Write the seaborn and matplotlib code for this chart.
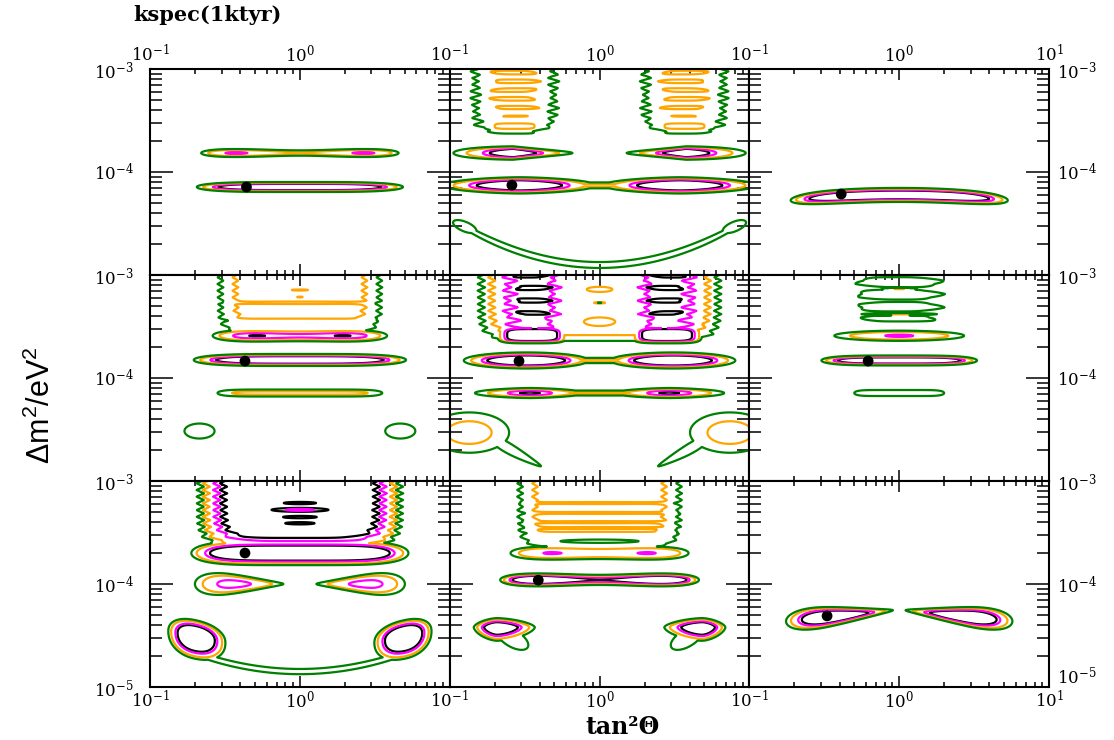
import numpy as np
import matplotlib
matplotlib.use("Agg")
import matplotlib.pyplot as plt
from matplotlib.ticker import LogLocator, NullFormatter
import seaborn as sns

# ---------------------------------------------------------------------------
# Confidence-level contours of the chi^2 surface
# ---------------------------------------------------------------------------
CHI2_LEVELS = [4.61, 5.99, 9.21, 11.83]
LEVEL_COLORS = ["black", "magenta", "orange", "green"]

X_TICKS = [0.1, 1.0, 10.0]
X_TICK_LABELS = [r"$\mathregular{10^{-1}}$", r"$\mathregular{10^{0}}$", r"$\mathregular{10^{1}}$"]
Y_TICKS = [1e-5, 1e-4, 1e-3]
Y_TICK_LABELS = [r"$\mathregular{10^{-5}}$", r"$\mathregular{10^{-4}}$", r"$\mathregular{10^{-3}}$"]

TITLE = "kspec(1ktyr)"
X_LABEL = "tan²Θ"
Y_LABEL = r"$\mathregular{\Delta m^{2}/eV^{2}}$"

# best-fit points, panels in reading order
BEST_TAN2 = [0.44, 0.26, 0.41, 0.43, 0.29, 0.62, 0.43, 0.39, 0.33]
BEST_DM2 = [7.15e-5, 7.45e-5, 6.1e-5, 1.46e-4, 1.46e-4, 1.46e-4, 2.0e-4, 1.09e-4, 4.9e-5]


def isl(cx, cy, d, sx=None, sy=None, sxn=None, sxp=None, syn=None, syp=None,
        px=2, py=2, a=0.0, k=0.0, slope=0.0, taper=0.0, wig=0.0, wigp=0.065,
        osc=0.0, oscp=0.1, ph=0.0, mirror=False):
    """One allowed region of the chi^2 surface in (log tan^2, log dm^2)."""
    return dict(cx=cx, cy=cy, d=d,
                sxn=sxn if sxn is not None else sx, sxp=sxp if sxp is not None else sx,
                syn=syn if syn is not None else sy, syp=syp if syp is not None else sy,
                px=px, py=py, a=a, k=k, slope=slope, taper=taper, wig=wig, wigp=wigp,
                osc=osc, oscp=oscp, ph=ph, mirror=mirror)


def bump(cx, cy, sx, sy, h, mirror=False):
    """Local rise of chi^2."""
    return dict(cx=cx, cy=cy, sx=sx, sy=sy, h=h, mirror=mirror)


# ---- row 1 ----------------------------------------------------------------
REGIONS_11 = [
    isl(0.0, -3.816, 5.6, sx=0.316, sy=0.0156, px=4, a=0.43),
    isl(0.0, -4.146, 0.0, sx=0.371, sy=0.0141, px=4),
]
RISES_11 = []

REGIONS_12 = [
    isl(-0.567, -3.0, 9.3, sx=0.206, sy=0.55, px=4, py=8, wig=0.03,
        osc=0.35, oscp=0.085, ph=-3.12, mirror=True),
    isl(-0.567, -3.555, 8.6, sx=0.15, sy=0.03, px=4, py=4, mirror=True),
    isl(-0.578, -3.816, 0.0, sx=0.0336, sy=0.019, px=1, taper=-1.0, mirror=True),
    isl(-0.535, -4.13, 0.0, sx=0.1096, sy=0.023, px=1.6, mirror=True),
    isl(0.0, -4.13, 8.6, sx=0.3, sy=0.016, px=4),
    isl(0.0, -4.903, 10.5, sx=0.936, sy=0.025, px=8, k=0.455),
    isl(-0.9, -4.53, 10.6, sx=0.07, sy=0.045, slope=-0.5, mirror=True),
]
RISES_12 = []

REGIONS_13 = [
    isl(0.0, -4.223, 0.0, sx=0.442, sy=0.0198, px=5, k=-0.1),
]
RISES_13 = []

# ---- row 2 ----------------------------------------------------------------
REGIONS_21 = [
    isl(0.0, -3.0, 8.6, sx=0.458, sy=0.483, px=8, py=8, wig=0.02),
    isl(0.0, -3.59, 4.5, sx=0.3066, sy=0.021, px=4, a=0.29),
    isl(0.0, -3.825, 0.0, sx=0.382, sy=0.017, px=4),
    isl(0.0, -4.146, 8.5, sx=0.473, sy=0.0186, px=8),
    isl(-0.67, -4.515, 10.5, sx=0.087, sy=0.063, mirror=True),
]
RISES_21 = [
    bump(0.0, -3.27, 0.6, 0.012, 1.6),
    bump(0.0, -3.44, 0.6, 0.012, 1.6),
    bump(0.0, -3.146, 0.07, 0.006, 1.2),
    bump(0.0, -3.214, 0.03, 0.005, 1.0),
]

REGIONS_22 = [
    isl(0.0, -3.0, 6.8, sx=0.645, sy=0.523, px=8, py=8, wig=0.025),
    isl(-0.455, -3.0, 4.9, sx=0.148, sy=0.5, px=4, py=8, wig=0.035,
        osc=0.6, oscp=0.122, ph=-3.126, mirror=True),
    isl(-0.45, -3.583, 2.0, sx=0.131, sy=0.0456, px=4, py=4, mirror=True),
    isl(-0.49, -3.83, 0.0, sx=0.121, sy=0.0227, mirror=True),
    isl(0.0, -3.83, 8.5, sx=0.35, sy=0.014, px=4),
    isl(-0.465, -4.146, 4.0, sx=0.093, sy=0.0175, px=1.5, mirror=True),
    isl(0.0, -4.146, 8.8, sx=0.3, sy=0.014, px=4),
    isl(-0.87, -4.53, 8.0, sx=0.136, sy=0.1, mirror=True),
    isl(-0.56, -4.72, 10.8, sx=0.167, sy=0.05, slope=-0.8, taper=-3.0, mirror=True),
]
RISES_22 = [
    bump(0.0, -3.14, 0.12, 0.035, 4.0),
    bump(0.0, -3.45, 0.13, 0.05, 4.0),
    bump(0.0, -3.27, 0.04, 0.006, 6.0),
]

REGIONS_23 = [
    isl(0.0, -3.0, 11.0, sx=0.24, sy=0.437, px=4, py=8, wig=0.03,
        osc=1.0, oscp=0.12, ph=-3.07),
    isl(0.0, -3.136, 9.0, sx=0.07, sy=0.006),
    isl(0.0, -3.38, 9.0, sx=0.15, sy=0.006),
    isl(0.0, -3.59, 5.7, sx=0.175, sy=0.02),
    isl(0.0, -3.83, 0.0, sx=0.28, sy=0.0141, px=4),
    isl(0.0, -4.146, 11.0, sx=0.307, sy=0.032, px=8),
]
RISES_23 = []

# ---- row 3 ----------------------------------------------------------------
REGIONS_31 = [
    isl(0.0, -3.0, 2.0, sx=0.421, sy=0.49, px=5, py=8, wig=0.025),
    isl(0.0, -3.70, 0.0, sx=0.442, sy=0.034, px=5),
    isl(-0.46, -4.0, 5.0, sxn=0.092, sxp=0.134, sy=0.037, taper=-2.0, mirror=True),
    isl(-0.7, -4.51, 0.0, sxn=0.058, sxp=0.066, syn=0.07, syp=0.052,
        px=2.2, py=2.2, slope=-0.3, mirror=True),
    isl(0.0, -4.85, 10.5, sx=0.82, sy=0.022, px=8, k=0.37),
]
RISES_31 = [
    bump(0.0, -3.214, 0.2, 0.02, 3.5),
    bump(0.0, -3.28, 0.25, 0.025, 4.6),
    bump(0.0, -3.35, 0.2, 0.02, 3.5),
    bump(0.0, -3.41, 0.18, 0.02, 3.2),
]

REGIONS_32 = [
    isl(0.0, -3.0, 8.6, sx=0.458, sy=0.553, px=8, py=8, wig=0.02),
    isl(0.0, -3.70, 5.85, sx=0.32, sy=0.026, px=4, a=0.32),
    isl(0.0, -3.96, 0.0, sx=0.281, sy=0.0183, px=4, a=0.41),
    isl(-0.685, -4.42, 0.0, sxn=0.033, sxp=0.054, syn=0.028, syp=0.019,
        px=1.6, py=1.6, mirror=True),
    isl(-0.58, -4.53, 9.6, sx=0.07, sy=0.06, slope=-0.6, mirror=True),
]
RISES_32 = [
    bump(0.0, -3.214, 0.6, 0.01, 1.5),
    bump(0.0, -3.31, 0.6, 0.01, 1.5),
    bump(0.0, -3.40, 0.6, 0.01, 1.5),
    bump(0.0, -3.456, 0.6, 0.008, 1.3),
    bump(0.0, -3.505, 0.6, 0.008, 1.3),
    bump(0.0, -3.583, 0.25, 0.015, 5.0),
]

REGIONS_33 = [
    isl(-0.475, -4.32, 0.0, sxn=0.0815, sxp=0.126, sy=0.028, slope=0.15,
        taper=-1.6, mirror=True),
]
RISES_33 = []

PANEL_REGIONS = [REGIONS_11, REGIONS_12, REGIONS_13,
                 REGIONS_21, REGIONS_22, REGIONS_23,
                 REGIONS_31, REGIONS_32, REGIONS_33]
PANEL_RISES = [RISES_11, RISES_12, RISES_13,
               RISES_21, RISES_22, RISES_23,
               RISES_31, RISES_32, RISES_33]


def zig(t):
    return 2.0 * np.abs(2.0 * (t - np.floor(t + 0.5))) - 1.0


def region_chi2(lx, ly, p):
    def one(x):
        u = x - p["cx"]
        if p["wig"]:
            u = u + p["wig"] * zig(ly / p["wigp"])
        sx = np.where(u < 0, p["sxn"], p["sxp"])
        v = ly - p["cy"] - p["k"] * u ** 2 - p["slope"] * u
        sy = np.where(v < 0, p["syn"], p["syp"]) * np.clip(1 + p["taper"] * u, 0.15, None)
        if p["a"]:
            tx = (np.abs(u ** 2 - p["a"] ** 2) / sx ** 2) ** (p["px"] / 2.0)
        else:
            tx = np.abs(u / sx) ** p["px"]
        ty = np.abs(v / sy) ** p["py"]
        dd = p["d"]
        if p["osc"]:
            dd = dd - p["osc"] * np.cos(2 * np.pi * (ly - p["ph"]) / p["oscp"])
        return dd + tx + ty

    c = one(lx)
    if p["mirror"]:
        c = np.minimum(c, one(-lx))
    return c


def rise(lx, ly, b):
    g = b["h"] * np.exp(-((lx - b["cx"]) / b["sx"]) ** 2 - ((ly - b["cy"]) / b["sy"]) ** 2)
    if b["mirror"]:
        g = g + b["h"] * np.exp(-((-lx - b["cx"]) / b["sx"]) ** 2 - ((ly - b["cy"]) / b["sy"]) ** 2)
    return g


def chi2_surface(lx, ly, regions, rises):
    chi = np.full(lx.shape, 1e3)
    for p in regions:
        chi = np.minimum(chi, region_chi2(lx, ly, p))
    for b in rises:
        chi = chi + rise(lx, ly, b)
    return chi


# ---------------------------------------------------------------------------
sns.set_theme(style="ticks")
plt.rcParams["font.family"] = ["DejaVu Serif"]
plt.rcParams["mathtext.fontset"] = "custom"
plt.rcParams["mathtext.rm"] = "DejaVu Serif"
plt.rcParams["mathtext.bf"] = "DejaVu Serif:bold"
plt.rcParams["axes.linewidth"] = 1.5
for key in ("text.color", "axes.labelcolor", "xtick.color", "ytick.color", "axes.edgecolor"):
    plt.rcParams[key] = "black"

fig = plt.figure(figsize=(11.14, 7.4), dpi=100)
gs = fig.add_gridspec(3, 3, left=0.1347, right=0.9417, bottom=0.0716, top=0.9068,
                      wspace=0, hspace=0)

lx_grid = np.linspace(-1.0, 1.0, 701)
ly_grid = np.linspace(-5.0, -3.0, 501)
LX, LY = np.meshgrid(lx_grid, ly_grid)
X, Y = 10.0 ** LX, 10.0 ** LY

for i in range(9):
    r, c = divmod(i, 3)
    ax = fig.add_subplot(gs[r, c])
    ax.set_xscale("log")
    ax.set_yscale("log")
    ax.set_facecolor("white")

    chi = chi2_surface(LX, LY, PANEL_REGIONS[i], PANEL_RISES[i])
    ax.contour(X, Y, chi, levels=CHI2_LEVELS, colors=LEVEL_COLORS, linewidths=1.6)
    sns.scatterplot(x=[BEST_TAN2[i]], y=[BEST_DM2[i]], ax=ax, color="black",
                    s=60, edgecolor="none", legend=False, zorder=5)

    ax.set_xlim(0.1, 10)
    ax.set_ylim(1e-5, 1e-3)
    ax.set_xlabel("")
    ax.set_ylabel("")

    # neighbouring panels share their edge labels: only the last one keeps the far end
    xt = X_TICKS if c == 2 else X_TICKS[:2]
    xl = X_TICK_LABELS if c == 2 else X_TICK_LABELS[:2]
    yt = Y_TICKS if r == 2 else Y_TICKS[1:]
    yl = Y_TICK_LABELS if r == 2 else Y_TICK_LABELS[1:]
    ax.set_xticks(xt, labels=xl)
    ax.set_yticks(yt, labels=yl)
    ax.xaxis.set_minor_locator(LogLocator(base=10, subs=np.arange(2, 10)))
    ax.yaxis.set_minor_locator(LogLocator(base=10, subs=np.arange(2, 10)))
    ax.xaxis.set_minor_formatter(NullFormatter())
    ax.yaxis.set_minor_formatter(NullFormatter())

    ax.tick_params(axis="both", which="both", direction="in", top=True, bottom=True,
                   left=True, right=True, colors="black", width=1.1, labelsize=12)
    ax.tick_params(axis="x", which="major", length=8)
    ax.tick_params(axis="x", which="minor", length=3.6)
    ax.tick_params(axis="y", which="major", length=16.5)
    ax.tick_params(axis="y", which="minor", length=8.6)

    ax.tick_params(axis="x", labeltop=(r == 0), labelbottom=(r == 2),
                   pad=2.5 if r == 0 else 2)
    ax.tick_params(axis="y", labelleft=(c == 0), labelright=(c == 2),
                   pad=12 if c == 0 else 6)
    for s in ax.spines.values():
        s.set_linewidth(1.5)
        s.set_color("black")

    # the lowest right-hand label sits just above the corner, clear of 10^1
    if r == 2 and c == 2:
        ax.yaxis.get_major_ticks()[0].label2.set_verticalalignment("bottom")

fig.text(0.1194, 0.9797, TITLE, fontsize=15, fontweight="bold",
         family="DejaVu Serif", ha="left", va="center", color="black")
fig.text(0.559, 0.001, X_LABEL, fontsize=17, fontweight="bold", family="DejaVu Serif",
         ha="center", va="bottom", color="black")
fig.text(0.037, 1 - 405 / 740, Y_LABEL, fontsize=22, rotation=90,
         family=["Liberation Sans Narrow", "Liberation Sans"], ha="center", va="center",
         color="black")

fig.savefig("out.png", dpi=100, facecolor="white")
